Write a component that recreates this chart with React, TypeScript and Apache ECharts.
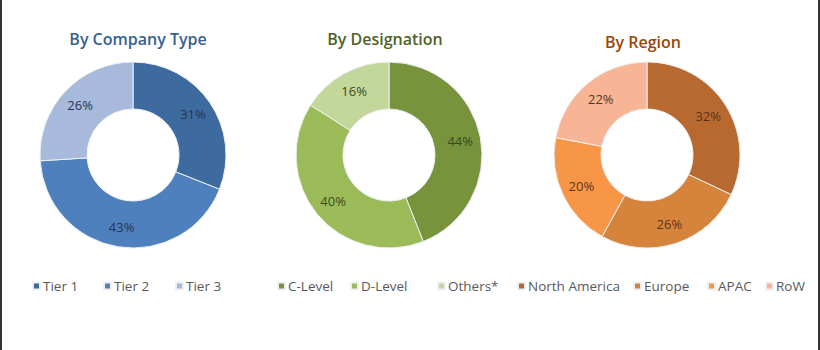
import React, { useEffect, useRef } from "react";
import * as echarts from "echarts";

const companyTypes = ["Tier 1", "Tier 2", "Tier 3"];
const companyValues = [31, 43, 26];
const designations = ["C-Level", "D-Level", "Others*"];
const designationValues = [44, 40, 16];
const regions = ["North America", "Europe", "APAC", "RoW"];
const regionValues = [32, 26, 20, 22];

const titles = ["By Company Type", "By Designation", "By Region"];

const companyColors = ["#3E6B9F", "#4E80BE", "#A8BADC"];
const designationColors = ["#77933C", "#9BBB59", "#C4D79B"];
const regionColors = ["#B8692F", "#D6843C", "#F79646", "#F8B595"];

const FONT = "'Open Sans', sans-serif";

export default function App() {
  const ref = useRef<HTMLDivElement>(null);
  useEffect(() => {
    document.body.style.margin = "0";
    const chart = echarts.init(ref.current!, null, { renderer: "svg" });

    const makePie = (
      name: string,
      cats: string[],
      vals: number[],
      colors: string[],
      cx: number,
      labelColor: string
    ) => ({
      type: "pie",
      name,
      center: [cx, 155],
      radius: [46, 93],
      startAngle: 90,
      clockwise: true,
      avoidLabelOverlap: false,
      label: {
        show: true,
        position: "inside",
        formatter: "{c}%",
        fontFamily: FONT,
        fontSize: 13,
        color: labelColor,
      },
      labelLine: { show: false },
      itemStyle: { borderColor: "#eef0f2", borderWidth: 1 },
      emphasis: { disabled: true },
      data: cats.map((c, i) => ({
        name: c,
        value: vals[i],
        itemStyle: { color: colors[i] },
      })),
    });

    const legendLefts: [string, number][] = [
      ["Tier 1", 32],
      ["Tier 2", 103],
      ["Tier 3", 175],
      ["C-Level", 277],
      ["D-Level", 350],
      ["Others*", 437],
      ["North America", 517],
      ["Europe", 633],
      ["APAC", 707],
      ["RoW", 765],
    ];

    const titleStyle = (color: string) => ({
      color,
      fontFamily: FONT,
      fontSize: 16,
      fontWeight: 600,
    });

    chart.setOption({
      animation: false,
      backgroundColor: "#ffffff",
      title: [
        { text: titles[0], left: 133, top: 26, textAlign: "center", textStyle: titleStyle("#376092") },
        { text: titles[1], left: 380, top: 26, textAlign: "center", textStyle: titleStyle("#4F6228") },
        { text: titles[2], left: 638, top: 29, textAlign: "center", textStyle: titleStyle("#984807") },
      ],
      legend: legendLefts.map(([n, x]) => ({
        data: [n],
        left: x,
        top: 279,
        padding: 0,
        itemWidth: 7,
        itemHeight: 7,
        itemGap: 0,
        icon: "rect",
        selectedMode: false,
        textStyle: { color: "#595959", fontFamily: FONT, fontSize: 13.5, padding: [0, 0, 0, -2] },
      })),
      graphic: [
        { type: "rect", shape: { x: 0, y: 0, width: 2, height: 350 }, style: { fill: "#333" } },
        { type: "rect", shape: { x: 818, y: 0, width: 2, height: 350 }, style: { fill: "#333" } },
      ],
      series: [
        makePie("company", companyTypes, companyValues, companyColors, 133, "#26364f"),
        makePie("designation", designations, designationValues, designationColors, 389, "#3c4a20"),
        makePie("region", regions, regionValues, regionColors, 647, "#5a3418"),
      ],
    });
    return () => chart.dispose();
  }, []);
  return <div ref={ref} style={{ width: 820, height: 350 }} />;
}
